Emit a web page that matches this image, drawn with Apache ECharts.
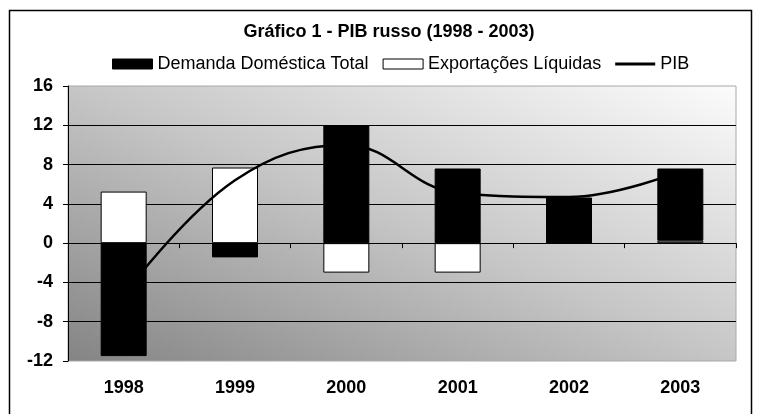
<!DOCTYPE html>
<html>
<head>
<meta charset="utf-8">
<script src="https://cdn.jsdelivr.net/npm/echarts@6/dist/echarts.min.js"></script>
<style>
html,body{margin:0;padding:0;background:#fff;}
#chart{width:760px;height:414px;}
</style>
</head>
<body>
<div id="chart"></div>
<script>
const categories = ['1998', '1999', '2000', '2001', '2002', '2003'];
const demandaDomestica = [-11.5, -1.45, 12.0, 7.6, 4.65, 7.35];
const exportacoesLiquidas = [5.25, 7.7, -3.0, -3.0, 0, 0.25];
const pib = [-5.3, 6.4, 10.0, 5.1, 4.7, 7.3];
const yTicks = { min: -12, max: 16, interval: 4 };

const FONT = 'Arial, "Liberation Sans", sans-serif';
const chart = echarts.init(document.getElementById('chart'), null, { renderer: 'canvas' });

chart.setOption({
  animation: false,
  backgroundColor: '#fff',
  title: {
    text: 'Gráfico 1 - PIB russo (1998 - 2003)',
    left: 389, top: 23, textAlign: 'center', padding: 0,
    textStyle: { fontFamily: FONT, fontSize: 18, fontWeight: 'bold', color: '#000' }
  },
  legend: {
    left: 112, top: 55, padding: 0,
    itemGap: 14, itemWidth: 40, itemHeight: 10,
    textStyle: { fontFamily: FONT, fontSize: 18, color: '#000' },
    data: [
      { name: 'Demanda Doméstica Total', icon: 'rect', itemStyle: { color: '#000', borderColor: '#000', borderWidth: 1 } },
      { name: 'Exportações Líquidas', icon: 'rect', itemStyle: { color: '#fff', borderColor: '#000', borderWidth: 1 } },
      { name: 'PIB', icon: 'path://M0,0 L40,0 L40,3 L0,3 Z', itemStyle: { color: '#000' } }
    ]
  },
  graphic: [{
    type: 'rect', silent: true, z: -10,
    shape: { x: 9.5, y: 10.5, width: 742, height: 430 },
    style: { fill: 'none', stroke: '#000', lineWidth: 1.5 }
  }],
  grid: {
    left: 68, right: 24, top: 86, bottom: 53,
    show: true,
    borderColor: '#a8a8a8', borderWidth: 1,
    backgroundColor: new echarts.graphic.LinearGradient(0.355, 1.353, 0.645, -0.357, [
      { offset: 0, color: '#848484' },
      { offset: 0.5, color: '#c6c6c6' },
      { offset: 1, color: '#fcfcfc' }
    ])
  },
  xAxis: [{
    type: 'category', data: categories, boundaryGap: true,
    axisLine: { onZero: true, lineStyle: { color: '#000', width: 1 } },
    axisTick: { show: true, length: 5, lineStyle: { color: '#000' } },
    axisLabel: { show: false },
    splitLine: { show: false }
  }, {
    type: 'category', data: categories, position: 'bottom',
    axisLine: { show: false, onZero: false },
    axisTick: { show: false },
    axisLabel: { show: true, margin: 18, fontFamily: FONT, fontSize: 18, fontWeight: 'bold', color: '#000' },
    splitLine: { show: false }
  }],
  yAxis: {
    type: 'value', min: yTicks.min, max: yTicks.max, interval: yTicks.interval,
    axisLine: { show: true, lineStyle: { color: '#000', width: 1 } },
    axisTick: { show: true, length: 5, lineStyle: { color: '#000' } },
    axisLabel: { margin: 15, fontFamily: FONT, fontSize: 18, fontWeight: 'bold', color: '#000' },
    splitLine: { show: true, showMinLine: false, showMaxLine: false, lineStyle: { color: '#000', width: 1 } }
  },
  series: [
    {
      name: 'Exportações Líquidas', type: 'bar', stack: 'total', xAxisIndex: 0,
      data: exportacoesLiquidas, barWidth: 46,
      itemStyle: { color: '#fff', borderColor: '#000', borderWidth: 1 }, z: 2
    },
    {
      name: 'Demanda Doméstica Total', type: 'bar', stack: 'total', xAxisIndex: 0,
      data: demandaDomestica, barWidth: 46,
      itemStyle: { color: '#000', borderColor: '#000', borderWidth: 1 }, z: 2
    },
    {
      name: 'PIB', type: 'line', xAxisIndex: 0, data: pib,
      smooth: 0.4, symbol: 'none',
      lineStyle: { color: '#000', width: 2.5 }, itemStyle: { color: '#000' }, z: 5
    }
  ]
});
</script>
</body>
</html>
